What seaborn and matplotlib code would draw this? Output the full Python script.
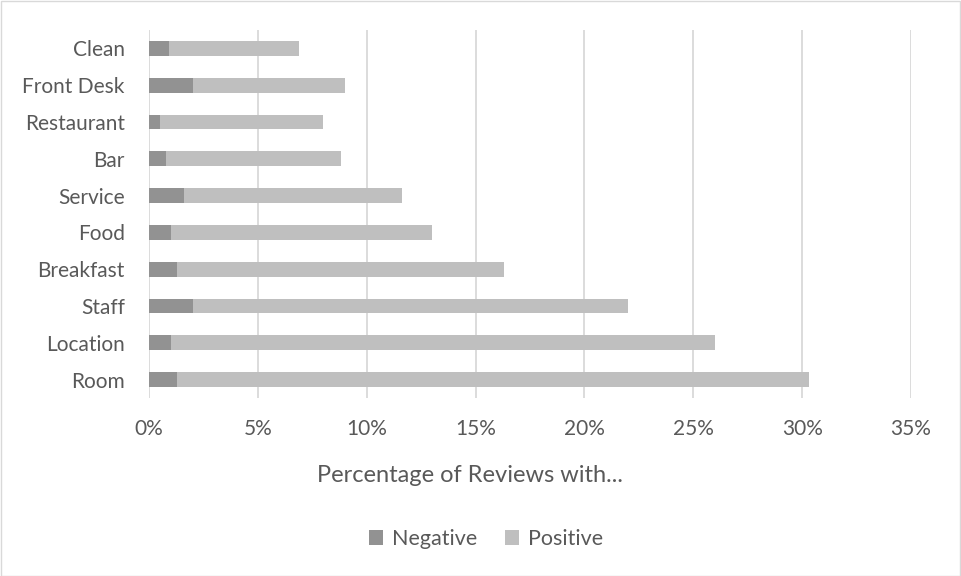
import matplotlib
matplotlib.use("Agg")
import matplotlib.pyplot as plt
import seaborn as sns
import pandas as pd
from matplotlib.patches import Patch, Rectangle
from matplotlib.ticker import PercentFormatter

categories = ["Clean", "Front Desk", "Restaurant", "Bar", "Service",
              "Food", "Breakfast", "Staff", "Location", "Room"]
negative = [0.9, 2.0, 0.5, 0.8, 1.6, 1.0, 1.3, 2.0, 1.0, 1.3]
positive = [6.0, 7.0, 7.5, 8.0, 10.0, 12.0, 15.0, 20.0, 25.0, 29.0]
x_ticks = [0, 5, 10, 15, 20, 25, 30, 35]

df = pd.DataFrame({"aspect": categories, "Negative": negative, "Positive": positive})
df["total"] = df["Negative"] + df["Positive"]

sns.set_theme(style="white")
plt.rcParams["font.family"] = ["Lato", "DejaVu Sans"]

text_color = "#595959"
grid_color = "#d9d9d9"
neg_color = "#929292"
pos_color = "#bfbfbf"

fig = plt.figure(figsize=(9.61, 5.76), dpi=100)
ax = fig.add_axes([149 / 961, 1 - 398 / 576, (911 - 149) / 961, (398 - 30) / 576])

# stacked bars: full length in the light shade, negative share on top of it
sns.barplot(data=df, y="aspect", x="total", order=categories, color=pos_color,
            width=0.4, saturation=1, ax=ax, edgecolor="none", linewidth=0)
sns.barplot(data=df, y="aspect", x="Negative", order=categories, color=neg_color,
            width=0.4, saturation=1, ax=ax, edgecolor="none", linewidth=0)

ax.set_xlim(0, 35)
ax.set_xticks(x_ticks)
ax.xaxis.set_major_formatter(PercentFormatter(decimals=0))
ax.grid(axis="x", color=grid_color, linewidth=1.3)
ax.set_axisbelow(True)
for s in ax.spines.values():
    s.set_visible(False)
ax.tick_params(axis="both", length=0, labelsize=15, colors=text_color)
ax.tick_params(axis="x", pad=15)
ax.tick_params(axis="y", pad=17.5)
ax.set_ylabel("")
ax.set_xlabel("")

fig.text(470 / 961, 1 - 476 / 576, "Percentage of Reviews with...", ha="center",
         va="center", fontsize=17, color=text_color)

handles = [Patch(facecolor=neg_color, edgecolor="none", label="Negative"),
           Patch(facecolor=pos_color, edgecolor="none", label="Positive")]
fig.legend(handles=handles, loc="center", bbox_to_anchor=(486 / 961, 1 - 539 / 576),
           ncol=2, frameon=False, fontsize=15.5, labelcolor=text_color,
           handlelength=0.65, handleheight=0.65, handletextpad=0.4, columnspacing=1.3)

# chart area border
fig.patches.append(Rectangle((0.5 / 961, 0.5 / 576), 1 - 1.5 / 961, 1 - 1.5 / 576,
                             transform=fig.transFigure, fill=False,
                             edgecolor=grid_color, linewidth=1))

fig.savefig("out.png", dpi=100)
